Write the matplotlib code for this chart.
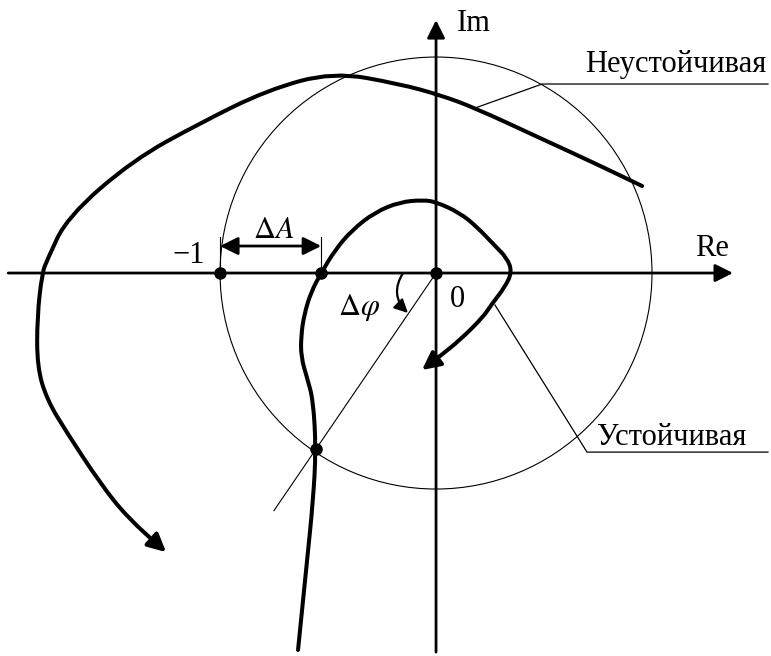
import matplotlib.pyplot as plt
import numpy as np
from matplotlib.path import Path
from matplotlib.patches import Circle, FancyArrowPatch

plt.rcParams['font.family'] = ['Liberation Serif', 'DejaVu Serif']
plt.rcParams['mathtext.fontset'] = 'stix'

# Stable system hodograph (Re, Im), from omega -> 0 to omega -> inf
stable_re = [-0.639, -0.597, -0.569, -0.556, -0.569, -0.597, -0.625, -0.625,
             -0.611, -0.579, -0.532, -0.468, -0.389, -0.282, -0.167, -0.060,
             0.000, 0.111, 0.190, 0.269, 0.329, 0.352, 0.319, 0.255, 0.218,
             0.111, 0.019, -0.065]
stable_im = [-1.745, -1.329, -1.051, -0.815, -0.588, -0.486, -0.389, -0.292,
             -0.194, -0.088, 0.000, 0.106, 0.199, 0.282, 0.329, 0.338,
             0.329, 0.278, 0.213, 0.130, 0.069, 0.005, -0.065, -0.148, -0.204,
             -0.310, -0.384, -0.449]

# Unstable system hodograph
unstable_re = [0.954, 0.764, 0.481, 0.181, 0.019, -0.167, -0.477, -0.782,
               -1.093, -1.403, -1.708, -1.801, -1.824, -1.847, -1.847, -1.801,
               -1.708, -1.556, -1.431, -1.250]
unstable_im = [0.403, 0.495, 0.625, 0.764, 0.824, 0.875, 0.931, 0.847,
               0.694, 0.523, 0.259, 0.060, 0.000, -0.204, -0.435, -0.588,
               -0.741, -0.972, -1.130, -1.292]

# Stability margins of the stable system
gain_cross_re = -0.532            # crossing of the negative real axis
phase_point = (-0.556, -0.815)    # crossing of the unit circle


def smooth_path(xs, ys):
    # quadratic B-spline through the midpoints of the polyline
    pts = np.column_stack([xs, ys])
    verts = [pts[0]]
    codes = [Path.MOVETO]
    for i in range(1, len(pts) - 1):
        verts += [pts[i], (pts[i] + pts[i + 1]) / 2]
        codes += [Path.CURVE3, Path.CURVE3]
    verts.append(pts[-1])
    codes.append(Path.LINETO)
    return Path(verts, codes)


fig = plt.figure(figsize=(7.71, 6.56), dpi=100)
ax = fig.add_axes([0, 0, 1, 1])
ax.set_xlim(-2.019, 1.551)
ax.set_ylim(-1.773, 1.264)
ax.axis('off')

arrow_kw = dict(arrowstyle='-|>', color='k', shrinkA=0, shrinkB=0)

# coordinate axes
ax.annotate('', xy=(1.375, 0), xytext=(-1.981, 0),
            arrowprops=dict(lw=2, mutation_scale=27, **arrow_kw))
ax.annotate('', xy=(0, 1.171), xytext=(0, -1.755),
            arrowprops=dict(lw=2, mutation_scale=27, **arrow_kw))

# unit circle
ax.add_patch(Circle((0, 0), 1.0, fill=False, lw=0.8, color='k'))

# hodographs
for xs, ys in [(stable_re, stable_im), (unstable_re, unstable_im)]:
    ax.add_patch(FancyArrowPatch(path=smooth_path(xs, ys), arrowstyle='-|>',
                                 mutation_scale=27, lw=2.9, color='k', zorder=3))

# ray from the origin through the phase margin point
ray = 1.35
ax.plot([0, phase_point[0] * ray], [0, phase_point[1] * ray], color='k', lw=0.8)

# gain margin dimension
ax.plot([-1, -1], [0, 0.167], color='k', lw=0.8)
ax.plot([gain_cross_re, gain_cross_re], [0, 0.167], color='k', lw=0.8)
ax.annotate('', xy=(gain_cross_re, 0.125), xytext=(-1, 0.125),
            arrowprops=dict(arrowstyle='<|-|>', color='k', lw=2,
                            mutation_scale=27, shrinkA=0, shrinkB=0))

# phase margin arc arrow
ax.annotate('', xy=(-0.130, -0.185), xytext=(-0.153, 0),
            arrowprops=dict(lw=1.6, mutation_scale=20,
                            connectionstyle='arc3,rad=0.4', **arrow_kw))

# marked points
dots_x = [-1, 0, gain_cross_re, phase_point[0]]
dots_y = [0, 0, 0, phase_point[1]]
ax.plot(dots_x, dots_y, 'o', color='k', ms=8, zorder=4)

# leader lines for the labels
ax.plot([0.181, 0.491, 1.537], [0.764, 0.875, 0.875], color='k', lw=0.9)
ax.plot([0.273, 0.699, 1.537], [-0.148, -0.829, -0.829], color='k', lw=0.9)

fs = 22
ax.text(0.690, 0.931, 'Неустойчивая', fontsize=fs, ha='left', va='baseline')
ax.text(0.745, -0.796, 'Устойчивая', fontsize=fs, ha='left', va='baseline')
ax.text(0.097, 1.120, 'Im', fontsize=fs, ha='left', va='baseline')
ax.text(1.199, 0.079, 'Re', fontsize=fs, ha='left', va='baseline')
ax.text(-1.218, 0.046, '−1', fontsize=fs, ha='left', va='baseline')
ax.text(-0.847, 0.162, r'$\Delta A$', fontsize=fs, ha='left', va='baseline')
ax.text(-0.454, -0.194, r'$\Delta\varphi$', fontsize=fs, ha='left', va='baseline')
ax.text(0.065, -0.157, '0', fontsize=fs, ha='left', va='baseline')

fig.savefig('out.png', dpi=100)
